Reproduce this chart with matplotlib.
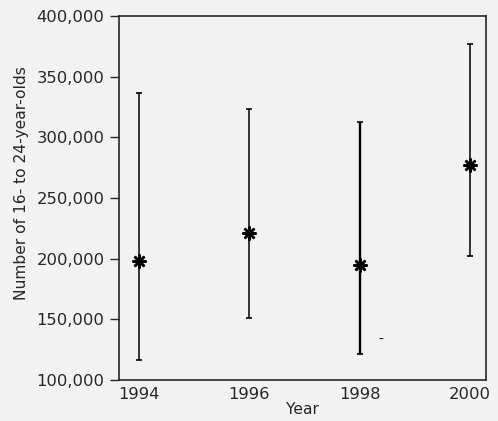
import matplotlib
matplotlib.use("Agg")
import matplotlib.pyplot as plt
from matplotlib.ticker import FuncFormatter

# Estimates with confidence ranges
years = [1994, 1996, 1998, 2000]
estimate = [198300, 220900, 194800, 276900]
lower = [116700, 151100, 121400, 201900]
upper = [336500, 323100, 312600, 377200]
line_widths = [1.1, 1.1, 1.7, 1.1]

y_ticks = [100000, 150000, 200000, 250000, 300000, 350000, 400000]
x_ticks = [1994, 1996, 1998, 2000]

plt.rcParams["font.family"] = ["DejaVu Sans"]

bg = "#f2f2f2"
ink = "#262626"
fig = plt.figure(figsize=(4.98, 4.21), dpi=100, facecolor=bg)
ax = fig.add_axes([119 / 498, 1 - 380 / 421, (486 - 119) / 498, (380 - 16) / 421])
ax.set_facecolor(bg)

for x, est, lo, hi, lw in zip(years, estimate, lower, upper, line_widths):
    ax.errorbar([x], [est], yerr=[[est - lo], [hi - est]], fmt="none",
                ecolor="black", elinewidth=lw, capsize=2, capthick=1.2)
    ax.plot([x], [est], marker=(8, 2, 0), markersize=10, mew=1.8,
            color="black", linestyle="none")

ax.text(1998.39, 133000, "-", ha="center", va="center", fontsize=10, color="black")

ax.set_xlim(1993.64, 2000.29)
ax.set_ylim(100000, 400000)
ax.set_xticks(x_ticks)
ax.set_yticks(y_ticks)
ax.yaxis.set_major_formatter(FuncFormatter(lambda v, p: f"{int(v):,}"))
ax.tick_params(axis="y", direction="out", length=6.5, width=1, labelsize=11.8,
               colors=ink, pad=4)
ax.tick_params(axis="x", length=0, labelsize=11.8, colors=ink, pad=5)
for s in ax.spines.values():
    s.set_color(ink)
    s.set_linewidth(1.2)

ax.set_xlabel("Year", fontsize=11.2, color=ink, labelpad=0)
ax.set_ylabel("Number of 16- to 24-year-olds", fontsize=11.2, color=ink)
ax.yaxis.set_label_coords(-0.245, 0.54)

fig.savefig("out.png", dpi=100, facecolor=bg)
